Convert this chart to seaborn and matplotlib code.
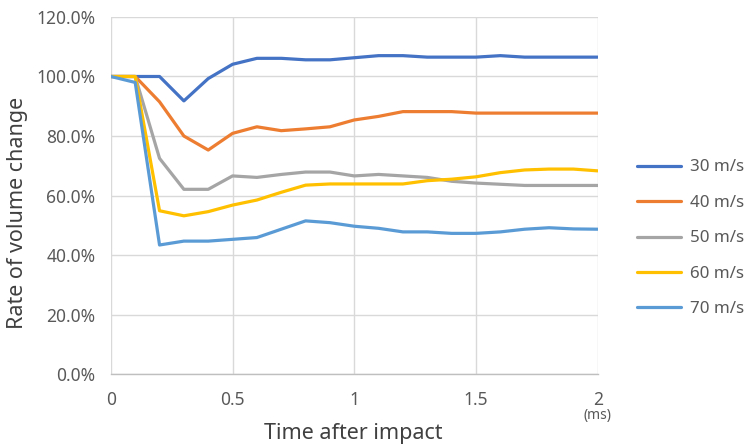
import numpy as np
import pandas as pd
import matplotlib
matplotlib.use("Agg")
import matplotlib.pyplot as plt
import seaborn as sns
from matplotlib.ticker import FuncFormatter

time_ms = [0.0, 0.1, 0.2, 0.3, 0.4, 0.5, 0.6, 0.7, 0.8, 0.9, 1.0,
           1.1, 1.2, 1.3, 1.4, 1.5, 1.6, 1.7, 1.8, 1.9, 2.0]

v30 = [100.0, 100.0, 100.0, 91.8, 99.3, 104.1, 106.1, 106.1, 105.6, 105.6, 106.3,
       107.0, 107.0, 106.5, 106.5, 106.5, 107.0, 106.5, 106.5, 106.5, 106.5]
v40 = [100.0, 100.0, 91.5, 80.0, 75.3, 80.9, 83.1, 81.8, 82.4, 83.1, 85.4,
       86.6, 88.2, 88.2, 88.2, 87.7, 87.7, 87.7, 87.7, 87.7, 87.7]
v50 = [100.0, 100.0, 72.5, 62.1, 62.1, 66.6, 66.1, 67.1, 67.9, 67.9, 66.6,
       67.1, 66.6, 66.1, 64.8, 64.2, 63.8, 63.4, 63.4, 63.4, 63.4]
v60 = [100.0, 100.0, 54.9, 53.2, 54.6, 56.8, 58.5, 61.1, 63.5, 63.9, 63.9,
       63.9, 63.9, 65.0, 65.5, 66.3, 67.7, 68.6, 68.9, 68.9, 68.3]
v70 = [100.0, 98.0, 43.4, 44.7, 44.7, 45.3, 45.9, 48.7, 51.5, 50.9, 49.7,
       49.0, 47.8, 47.8, 47.3, 47.3, 47.8, 48.7, 49.2, 48.8, 48.7]

series_names = ["30 m/s", "40 m/s", "50 m/s", "60 m/s", "70 m/s"]
series_values = [v30, v40, v50, v60, v70]
colors = ["#4472C4", "#ED7D31", "#A5A5A5", "#FFC000", "#5B9BD5"]

x_ticks = [0, 0.5, 1, 1.5, 2]
x_tick_labels = ["0", "0.5", "1", "1.5", "2"]
y_ticks = [0, 20, 40, 60, 80, 100, 120]

rows = []
for name, vals in zip(series_names, series_values):
    for t, v in zip(time_ms, vals):
        rows.append({"time": t, "rate": v, "speed": name})
df = pd.DataFrame(rows)

sns.set_theme(style="white")
plt.rcParams["font.family"] = ["Noto Sans", "DejaVu Sans"]

fig = plt.figure(figsize=(7.49, 4.46), dpi=100)
ax = fig.add_axes([0.148, 0.161, 0.650, 0.801])

sns.lineplot(data=df, x="time", y="rate", hue="speed", hue_order=series_names,
             palette=colors, linewidth=2.3, ax=ax, legend=True)

ax.set_xlim(0, 2)
ax.set_ylim(0, 120)
ax.set_xticks(x_ticks)
ax.set_xticklabels(x_tick_labels)
ax.set_yticks(y_ticks)
ax.yaxis.set_major_formatter(FuncFormatter(lambda v, p: f"{v:.1f}%"))

ax.grid(True, color="#D9D9D9", linewidth=1.0)
ax.set_axisbelow(True)
for s in ["top", "right", "left"]:
    ax.spines[s].set_visible(False)
ax.spines["bottom"].set_color("#BFBFBF")
ax.spines["bottom"].set_linewidth(1.0)

ax.tick_params(axis="both", length=0, labelsize=12.5, colors="#595959")
ax.tick_params(axis="y", pad=11)
ax.tick_params(axis="x", pad=12)

ax.set_xlabel("")
ax.set_ylabel("Rate of volume change", fontsize=15.5, color="#404040")
ax.yaxis.set_label_coords(-0.17, 0.45)
fig.text((111 + 598) / 2 / 749 - 0.002, 1 - 433 / 446, "Time after impact",
         ha="center", va="center", fontsize=15.5, color="#404040")

ax.text(2.0, -11.3, "(ms)", ha="center", va="top", fontsize=10, color="#595959",
        transform=ax.transData, clip_on=False)

leg = ax.legend(loc="center left", bbox_to_anchor=(1.05, 0.38), frameon=False,
                fontsize=12.2, handlelength=2.6, labelspacing=1.15,
                handletextpad=0.5)
for t in leg.get_texts():
    t.set_color("#595959")
for h in leg.legend_handles:
    h.set_linewidth(2.3)

fig.savefig("out.png", dpi=100)
